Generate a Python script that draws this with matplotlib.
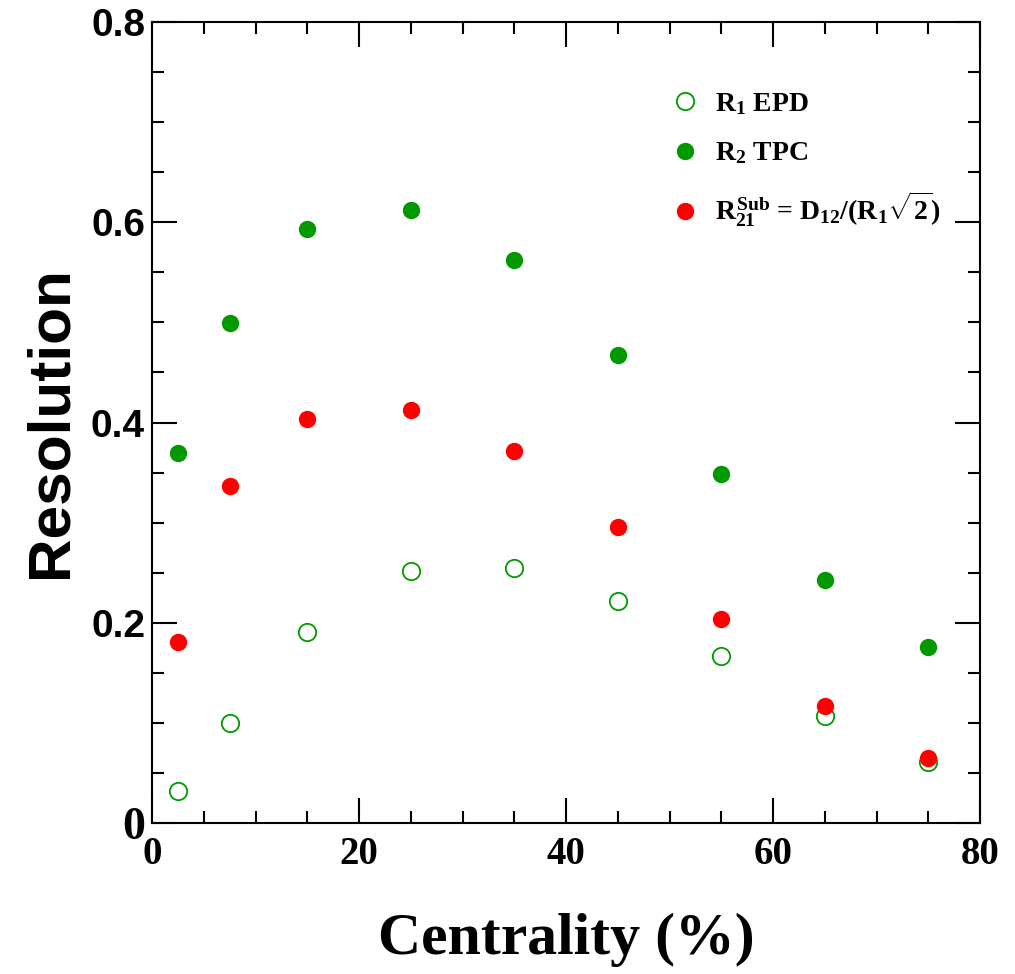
import numpy as np
import matplotlib.pyplot as plt
from matplotlib.ticker import MultipleLocator

plt.rcParams['mathtext.fontset'] = 'custom'
plt.rcParams['mathtext.rm'] = 'Liberation Serif:bold'
plt.rcParams['mathtext.it'] = 'Liberation Serif:bold'
plt.rcParams['mathtext.bf'] = 'Liberation Serif:bold'

# centrality bin centres (%)
centrality = [2.5, 7.5, 15, 25, 35, 45, 55, 65, 75]
r1_epd = [0.032, 0.100, 0.191, 0.252, 0.255, 0.222, 0.167, 0.107, 0.061]
r2_tpc = [0.370, 0.499, 0.593, 0.612, 0.562, 0.467, 0.349, 0.243, 0.176]
r21_sub = [0.181, 0.337, 0.404, 0.413, 0.372, 0.296, 0.204, 0.117, 0.065]

green = '#009a00'
red = '#ff0000'

fig = plt.figure(figsize=(10.15, 9.74), dpi=100)
ax = fig.add_axes([0.1498, 0.155, 0.8158, 0.8224])

ax.plot(centrality, r1_epd, 'o', ms=12.5, mfc='none', mec=green, mew=1.3,
        label=r'R$_1$ EPD', zorder=2)
ax.plot(centrality, r2_tpc, 'o', ms=12.5, color=green, mew=0,
        label=r'R$_2$ TPC', zorder=3)
ax.plot(centrality, r21_sub, 'o', ms=12.5, color=red, mew=0,
        label=r'$R_{21}^{Sub}$ = D$_{12}$/(R$_1\sqrt{2}$)', zorder=4)

ax.set_xlim(0, 80)
ax.set_ylim(0, 0.8)

ax.xaxis.set_major_locator(MultipleLocator(20))
ax.xaxis.set_minor_locator(MultipleLocator(5))
ax.yaxis.set_major_locator(MultipleLocator(0.2))
ax.yaxis.set_minor_locator(MultipleLocator(0.05))
ax.tick_params(which='both', direction='in', top=True, right=True, width=1.5)
ax.tick_params(which='major', length=18)
ax.tick_params(which='minor', length=8.5)
ax.tick_params(axis='x', pad=9)
ax.tick_params(axis='y', pad=5)
for s in ax.spines.values():
    s.set_linewidth(1.5)

ax.set_xticks([0, 20, 40, 60, 80])
ax.set_xticklabels(['0', '20', '40', '60', '80'],
                   fontfamily='Liberation Serif', fontweight='bold', fontsize=28)
ax.set_yticks([0, 0.2, 0.4, 0.6, 0.8])
ax.set_yticklabels(['0', '0.2', '0.4', '0.6', '0.8'],
                   fontfamily='Liberation Sans', fontweight='bold', fontsize=28)
# the zero on the y axis is printed in the serif face
ylab0 = ax.get_yticklabels()[0]
ylab0.set_fontfamily('Liberation Serif')
ylab0.set_fontsize(33)

ax.set_xlabel('Centrality (%)', fontfamily='Liberation Serif', fontweight='bold',
              fontsize=43, labelpad=29)
ax.set_ylabel('Resolution', fontfamily='Liberation Sans', fontweight='bold',
              fontsize=43.5, labelpad=9)

leg = ax.legend(loc='upper left', bbox_to_anchor=(0.593, 0.945), frameon=False,
                prop={'family': 'Liberation Serif', 'weight': 'bold', 'size': 20},
                handletextpad=0.5, labelspacing=0.85, handlelength=1.2,
                numpoints=1)

fig.savefig('out.png', dpi=100)
